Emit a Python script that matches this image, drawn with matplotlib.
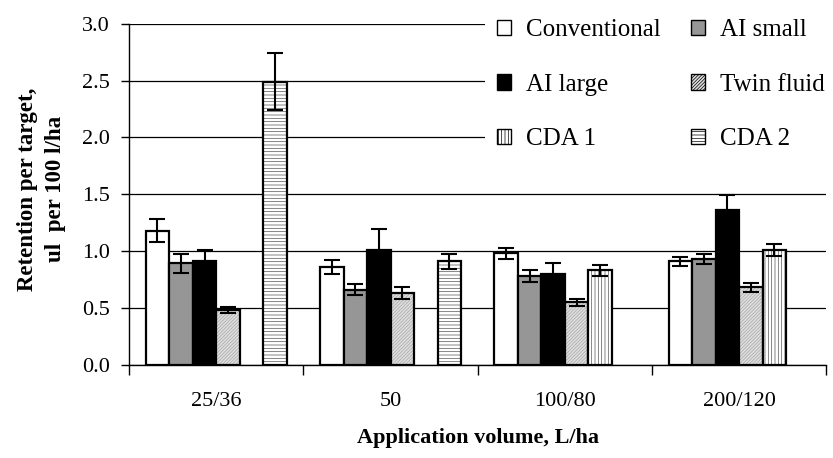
import numpy as np
import matplotlib
matplotlib.use("Agg")
import matplotlib.pyplot as plt
from matplotlib.patches import Patch

plt.rcParams['font.family'] = ['Liberation Serif', 'DejaVu Serif']
plt.rcParams['hatch.linewidth'] = 0.5

# data
categories = ['25/36', '50', '100/80', '200/120']
series = ['Conventional', 'AI small', 'AI large', 'Twin fluid', 'CDA 1', 'CDA 2']

conventional = [1.18, 0.86, 0.98, 0.91]
ai_small = [0.89, 0.66, 0.78, 0.93]
ai_large = [0.91, 1.01, 0.80, 1.36]
twin_fluid = [0.48, 0.63, 0.55, 0.68]
cda1 = [np.nan, np.nan, 0.83, 1.01]
cda2 = [2.49, 0.91, np.nan, np.nan]

err_conventional = [0.10, 0.065, 0.05, 0.04]
err_ai_small = [0.08, 0.05, 0.05, 0.045]
err_ai_large = [0.10, 0.18, 0.095, 0.135]
err_twin_fluid = [0.025, 0.05, 0.03, 0.04]
err_cda1 = [np.nan, np.nan, 0.05, 0.05]
err_cda2 = [0.25, 0.065, np.nan, np.nan]

values = [conventional, ai_small, ai_large, twin_fluid, cda1, cda2]
errors = [err_conventional, err_ai_small, err_ai_large, err_twin_fluid, err_cda1, err_cda2]

# face colour, hatch, hatch colour
styles = [
    ('white', None, None),
    ('#969696', None, None),
    ('black', None, None),
    ('#dedede', '//////////', '#a8a8a8'),
    ('white', '|||||', '#555555'),
    ('white', '-----', '#555555'),
]

fig = plt.figure(figsize=(8.33, 4.58), dpi=100)
ax = fig.add_axes([0.155, 0.204, 0.837, 0.744])

x = np.arange(len(categories))
w = 0.135
for i, (vals, errs, st) in enumerate(zip(values, errors, styles)):
    fc, hatch, hc = st
    vals = np.array(vals, dtype=float)
    errs = np.array(errs, dtype=float)
    ok = ~np.isnan(vals)
    pos = x[ok] + (i - 2.5) * w
    if hatch:
        # hatch layer first (hatch takes the edge colour), outline on top
        ax.bar(pos, vals[ok], width=w, facecolor=fc, hatch=hatch,
               edgecolor=hc, linewidth=0, zorder=3)
        ax.bar(pos, vals[ok], width=w, facecolor='none',
               edgecolor='black', linewidth=1.6, zorder=3)
    else:
        ax.bar(pos, vals[ok], width=w, facecolor=fc,
               edgecolor='black', linewidth=1.6, zorder=3)
    ax.errorbar(pos, vals[ok], yerr=errs[ok], fmt='none', ecolor='black',
                elinewidth=1.5, capsize=5.5, capthick=1.5, zorder=4)

ax.set_xlim(-0.5, 3.5)
ax.set_ylim(0, 3.0)
yt = np.arange(0, 3.01, 0.5)
ax.set_yticks(yt)
ax.set_yticklabels([f'{v:.1f}' for v in yt])
ax.set_xticks(x)
ax.set_xticklabels(categories)
ax.set_xticks(np.arange(-0.5, 3.6, 1), minor=True)
ax.tick_params(axis='x', which='major', length=0, pad=20, labelsize=16)
ax.tick_params(axis='x', which='minor', length=7, width=1, direction='out')
ax.tick_params(axis='y', length=6, width=1, direction='out', pad=8, labelsize=16)
ax.yaxis.grid(True, color='black', linewidth=0.9, zorder=0)
ax.set_axisbelow(True)
for s in ['top', 'right']:
    ax.spines[s].set_visible(False)
ax.spines['left'].set_linewidth(1)
ax.spines['bottom'].set_linewidth(1)

ax.set_xlabel('Application volume, L/ha', fontsize=16, fontweight='bold', labelpad=12)
ax.set_ylabel('Retention per target,\nul  per 100 l/ha', fontsize=16.5,
              fontweight='bold', linespacing=1.45)
ax.yaxis.set_label_coords(-0.09, 0.515)

handles = []
for (fc, hatch, hc), name in zip(styles, series):
    handles.append(Patch(facecolor=fc, hatch=hatch, edgecolor='black',
                         linewidth=1.0, label=name))
order = [0, 2, 4, 1, 3, 5]
leg = fig.legend([handles[i] for i in order], [series[i] for i in order],
                 ncol=2, loc='upper left', bbox_to_anchor=(0.582, 0.985),
                 fontsize=18, frameon=True, facecolor='white', edgecolor='none',
                 framealpha=1, fancybox=False, handlelength=0.55, handleheight=0.55,
                 handletextpad=0.6, columnspacing=1.2, labelspacing=1.3,
                 borderpad=0.5, borderaxespad=0)
leg.set_zorder(10)

fig.savefig('out.png', dpi=100)
